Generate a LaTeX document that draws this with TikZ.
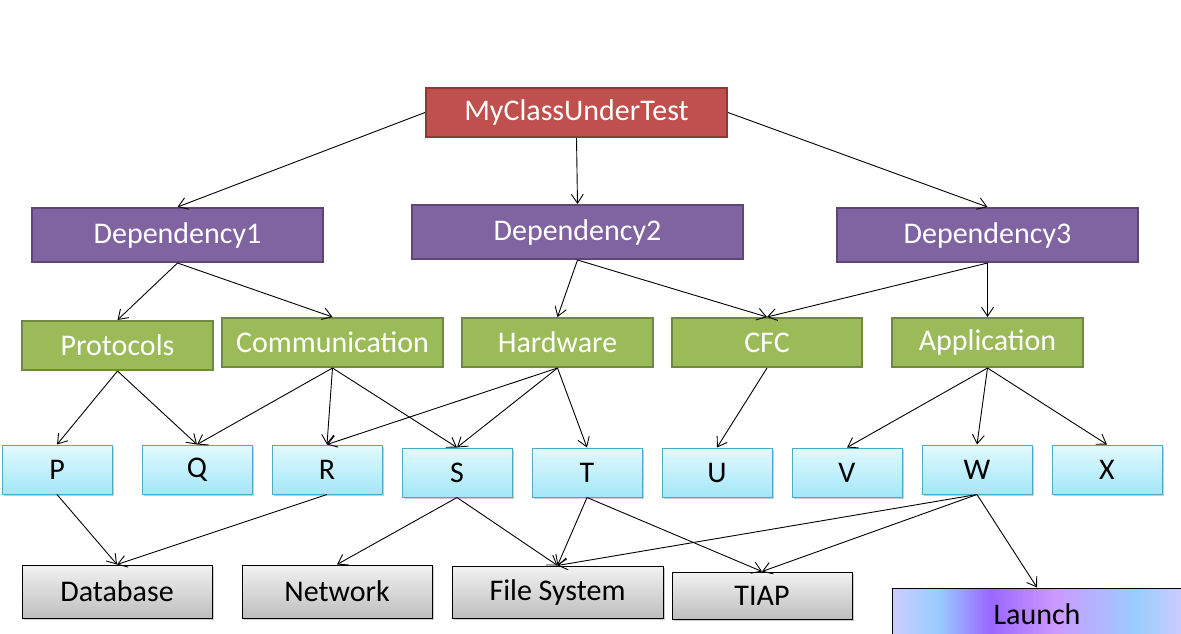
\documentclass[tikz,border=0pt]{standalone}
\usepackage{fontspec}
\setmainfont{Carlito}
\usetikzlibrary{arrows.meta,shadows}
\definecolor{redF}{HTML}{C0504D}\definecolor{redB}{HTML}{8C3A37}
\definecolor{purF}{HTML}{8064A2}\definecolor{purB}{HTML}{5C4776}
\definecolor{grnF}{HTML}{9BBB59}\definecolor{grnB}{HTML}{71893F}
\definecolor{cyT}{HTML}{E2F9FE}\definecolor{cyB}{HTML}{A3E7F9}\definecolor{cyD}{HTML}{4BACC6}
\definecolor{gyT}{HTML}{F2F2F2}\definecolor{gyB}{HTML}{BEBEBE}
\definecolor{la}{HTML}{CCCCFF}\definecolor{lb}{HTML}{99CCFF}\definecolor{lc}{HTML}{9966FF}
\definecolor{ld}{HTML}{CC99FF}\definecolor{le}{HTML}{B3B3FF}
\pgfdeclarehorizontalshading{launchshade}{100bp}{color(0bp)=(la); color(25bp)=(la); color(33bp)=(lb); color(42bp)=(lc); color(53bp)=(ld); color(60bp)=(le); color(67bp)=(lb); color(75bp)=(la); color(100bp)=(la)}
\begin{document}
\begin{tikzpicture}[x=1pt,y=-1pt,
  box/.style={rectangle,inner sep=0pt,font=\fontsize{30}{34}\selectfont},
  redbox/.style={box,fill=redF,draw=redB,line width=2pt,text=white,minimum width=301pt,minimum height=49pt},
  purbox/.style={box,fill=purF,draw=purB,line width=2pt,text=white,minimum height=54pt},
  grnbox/.style={box,fill=grnF,draw=grnB,line width=2pt,text=white,minimum height=49pt},
  cybox/.style={box,top color=cyT,bottom color=cyB,draw=cyD,line width=1pt,text=black,minimum width=110pt,minimum height=49pt,
     drop shadow={shadow xshift=1.5pt,shadow yshift=-2pt,opacity=0.2,fill=black}},
  gybox/.style={box,top color=gyT,bottom color=gyB,draw=black,line width=1pt,text=black,minimum height=52pt,
     drop shadow={shadow xshift=1.5pt,shadow yshift=-2pt,opacity=0.2,fill=black}},
  lnbox/.style={box,shading=launchshade,draw=black,line width=1pt,text=black,minimum width=290pt,minimum height=52pt},
  conn/.style={line width=0.9pt,-{Straight Barb[length=9pt,width=12pt,line width=0.9pt]}}]
\useasboundingbox (0,0) rectangle (1181,633);
\clip (0,0) rectangle (1181,633);
\fill[white] (0,0) rectangle (1181,633);
% top
\node[redbox] (mc) at (576.5,112.5) {MyClassUnderTest};
% dependencies
\node[purbox,minimum width=291pt] (d1) at (177.5,235) {Dependency1};
\node[purbox,minimum width=331pt] (d2) at (577.5,232) {Dependency2};
\node[purbox,minimum width=301pt] (d3) at (987.5,235) {Dependency3};
% green
\node[grnbox,minimum width=191pt] (prot) at (117.5,345.5) {Protocols};
\node[grnbox,minimum width=221pt] (comm) at (332.5,342.5) {Communication};
\node[grnbox,minimum width=191pt] (hw) at (557.5,342.5) {Hardware};
\node[grnbox,minimum width=190pt] (cfc) at (767,342.5) {CFC};
\node[grnbox,minimum width=191pt] (app) at (987.5,342.5) {Application};
% cyan
\node[cybox] (P) at (57,469.5) {P};
\node[cybox] (Q) at (197,469.5) {Q};
\node[cybox] (R) at (327,469.5) {R};
\node[cybox] (S) at (457,472.5) {S};
\node[cybox] (T) at (587,472.5) {T};
\node[cybox] (U) at (717,472.5) {U};
\node[cybox] (V) at (847,472.5) {V};
\node[cybox] (W) at (977,469.5) {W};
\node[cybox] (X) at (1107,469.5) {X};
% gray
\node[gybox,minimum width=190pt,minimum height=53pt] (db) at (117,591.5) {Database};
\node[gybox,minimum width=190pt,minimum height=53pt] (net) at (337,591.5) {Network};
\node[gybox,minimum width=211pt] (fs) at (557.5,592) {File System};
\node[gybox,minimum width=180pt,minimum height=47pt] (tiap) at (762,595.5) {TIAP};
\node[lnbox] (launch) at (1037,614) {Launch};
% connectors
\draw[conn] (mc.west) -- (d1.north);
\draw[conn] (mc.south) -- (d2.north);
\draw[conn] (mc.east) -- (d3.north);
\draw[conn] (d1.south) -- (prot.north);
\draw[conn] (d1.south) -- (comm.north);
\draw[conn] (d2.south) -- (hw.north);
\draw[conn] (d2.south) -- (cfc.north);
\draw[conn] (d3.south) -- (cfc.north);
\draw[conn] (d3.south) -- (app.north);
\draw[conn] (prot.south) -- (P.north);
\draw[conn] (prot.south) -- (Q.north);
\draw[conn] (comm.south) -- (Q.north);
\draw[conn] (comm.south) -- (R.north);
\draw[conn] (comm.south) -- (S.north);
\draw[conn] (hw.south) -- (R.north);
\draw[conn] (hw.south) -- (S.north);
\draw[conn] (hw.south) -- (T.north);
\draw[conn] (cfc.south) -- (U.north);
\draw[conn] (app.south) -- (V.north);
\draw[conn] (app.south) -- (W.north);
\draw[conn] (app.south) -- (X.north);
\draw[conn] (P.south) -- (db.north);
\draw[conn] (R.south) -- (db.north);
\draw[conn] (S.south) -- (net.north);
\draw[conn] (S.south) -- (fs.north);
\draw[conn] (T.south) -- (fs.north);
\draw[conn] (T.south) -- (tiap.north);
\draw[conn] (W.south) -- (fs.north);
\draw[conn] (W.south) -- (tiap.north);
\draw[conn] (W.south) -- (launch.north);
\end{tikzpicture}
\end{document}
